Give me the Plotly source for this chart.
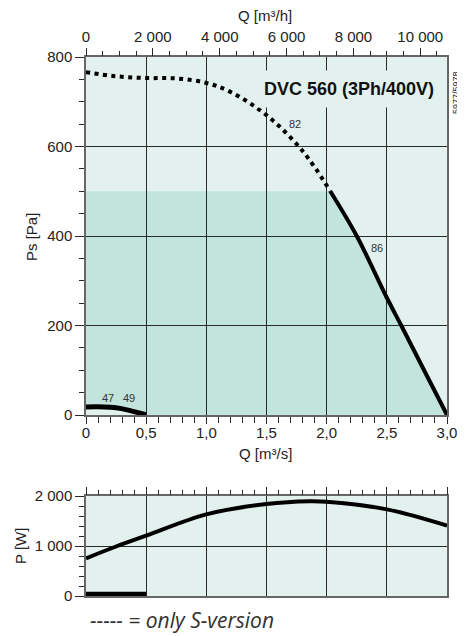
import plotly.graph_objects as go

# ---- data ----
q_dotted = [0, 0.25, 0.5, 0.75, 1.0, 1.2, 1.5, 1.8, 2.03]
ps_dotted = [766, 757, 753, 752, 742, 722, 670, 590, 500]

q_solid = [2.03, 2.25, 2.5, 2.62, 2.8, 3.0]
ps_solid = [500, 400, 262, 200, 105, 0]

q_small = [0, 0.15, 0.25, 0.35, 0.45, 0.5]
ps_small = [18, 18, 16, 11, 4, 0]

shade_limit = 500

q_power = [0, 0.25, 0.5, 1.0, 1.5, 1.86, 2.0, 2.5, 3.0]
p_power = [753, 990, 1207, 1633, 1840, 1895, 1885, 1733, 1407]

q_power_small = [0, 0.5]
p_power_small = [33, 33]

label_text = ["82", "86", "47", "49"]
label_q = [1.737, 2.418, 0.183, 0.357]
label_ps = [650, 373, 38, 38]

q_ticks = [0, 0.5, 1.0, 1.5, 2.0, 2.5, 3.0]
q_ticktext = ["0", "0,5", "1,0", "1,5", "2,0", "2,5", "3,0"]
qh_ticks = [0, 2000, 4000, 6000, 8000, 10000]
qh_ticktext = ["0", "2 000", "4 000", "6 000", "8 000", "10 000"]
ps_ticks = [0, 200, 400, 600, 800]
p_ticks = [0, 1000, 2000]
p_ticktext = ["0", "1 000", "2 000"]

title_text = "DVC 560 (3Ph/400V)"
code_text = "5977/5978"
note_text = "----- = only S-version"

# ---- layout helpers (page body has an 8px margin) ----
OFF = 8
W, H = 465 - OFF, 636 - OFF
def fx(p):
    return (p - OFF) / W
def fy(p):
    return 1 - (p - OFF) / H

LIGHT = "#e3f1ee"
DARK = "#c3e3dd"
GRID = "#2a2a2a"
AXL = "#666666"
TXT = "#222222"
FONT = "Liberation Sans, Arial, sans-serif"

fig = go.Figure()

# main curves
fig.add_trace(go.Scatter(x=q_dotted, y=ps_dotted, mode="lines", line=dict(color="black", width=4, dash="4px,4.5px", shape="spline"),
                         xaxis="x", yaxis="y", hoverinfo="skip"))
fig.add_trace(go.Scatter(x=q_solid, y=ps_solid, mode="lines", line=dict(color="black", width=4, shape="spline"),
                         xaxis="x", yaxis="y", hoverinfo="skip"))
fig.add_trace(go.Scatter(x=q_small, y=ps_small, mode="lines", line=dict(color="black", width=5, shape="spline"),
                         xaxis="x", yaxis="y", hoverinfo="skip"))
# power curves
fig.add_trace(go.Scatter(x=q_power, y=p_power, mode="lines", line=dict(color="black", width=4, shape="spline"),
                         xaxis="x2", yaxis="y2", hoverinfo="skip"))
fig.add_trace(go.Scatter(x=q_power_small, y=p_power_small, mode="lines", line=dict(color="black", width=5),
                         xaxis="x2", yaxis="y2", hoverinfo="skip"))
# dummy traces for top axes
fig.add_trace(go.Scatter(x=[0], y=[0], mode="markers", marker=dict(opacity=0), xaxis="x3", yaxis="y", hoverinfo="skip"))
fig.add_trace(go.Scatter(x=[0], y=[0], mode="markers", marker=dict(opacity=0), xaxis="x4", yaxis="y2", hoverinfo="skip"))

# shaded operating region (below gridlines)
poly_x = [0] + q_solid + q_small[::-1]
poly_y = [shade_limit] + ps_solid + ps_small[::-1]
path = "M " + " L ".join(f"{a},{b}" for a, b in zip(poly_x, poly_y)) + " Z"
shapes = [dict(type="path", path=path, xref="x", yref="y", fillcolor=DARK, line=dict(width=0), layer="below")]

main_x = [fx(86), fx(447)]
main_y = [fy(415), fy(57)]
pow_y = [fy(596), fy(496)]

tickfont = dict(family=FONT, size=15, color=TXT)

common_x = dict(range=[0, 3], showline=True, linecolor=AXL, linewidth=1.5, mirror=True, automargin=False,
                showgrid=True, gridcolor=GRID, gridwidth=1, zeroline=False,
                tickmode="array", tickvals=q_ticks)

fig.update_layout(
    width=W, height=H, autosize=False,
    margin=dict(l=0, r=0, t=0, b=0, autoexpand=False),
    paper_bgcolor="white", plot_bgcolor=LIGHT,
    showlegend=False,
    shapes=shapes,
    xaxis=dict(**common_x, domain=main_x, anchor="y", ticktext=q_ticktext, ticks="outside", ticklen=7,
               tickcolor=GRID, tickfont=tickfont, ticklabelstandoff=-4,
               minor=dict(tickmode="linear", tick0=0, dtick=0.1, ticks="outside", ticklen=6, tickcolor=GRID, showgrid=False)),
    yaxis=dict(domain=main_y, anchor="x", range=[0, 800], showline=True, linecolor=AXL, linewidth=1.5, mirror=True,
               automargin=False, showgrid=True, gridcolor=GRID, gridwidth=1, zeroline=False,
               tickmode="array", tickvals=ps_ticks, ticks="outside", ticklen=9, tickcolor=GRID, tickfont=tickfont,
               minor=dict(tickmode="linear", tick0=0, dtick=50, ticks="outside", ticklen=5, tickcolor=GRID, showgrid=False)),
    xaxis3=dict(overlaying="x", side="top", anchor="y", range=[0, 3 * 3600], showgrid=False, showline=False, zeroline=False,
                automargin=False,
                tickmode="array", tickvals=qh_ticks, ticktext=qh_ticktext, ticks="outside", ticklen=8, tickcolor=GRID,
                tickfont=tickfont,
                minor=dict(tickmode="linear", tick0=0, dtick=500, ticks="outside", ticklen=5, tickcolor=GRID, showgrid=False)),
    xaxis2=dict(**common_x, domain=main_x, anchor="y2", showticklabels=False, ticks=""),
    yaxis2=dict(domain=pow_y, anchor="x2", range=[0, 2000], showline=True, linecolor=AXL, linewidth=1.5, mirror=True,
                automargin=False, showgrid=True, gridcolor=GRID, gridwidth=1, zeroline=False,
                tickmode="array", tickvals=p_ticks, ticktext=p_ticktext, ticks="outside", ticklen=9, tickcolor=GRID,
                tickfont=tickfont,
                minor=dict(tickmode="linear", tick0=0, dtick=200, ticks="outside", ticklen=5, tickcolor=GRID, showgrid=False)),
    xaxis4=dict(overlaying="x2", side="top", anchor="y2", range=[0, 3], showgrid=False, showline=False, zeroline=False,
                automargin=False,
                tickmode="array", tickvals=q_ticks, showticklabels=False, ticks="outside", ticklen=8, tickcolor=GRID,
                minor=dict(tickmode="linear", tick0=0, dtick=0.1, ticks="outside", ticklen=5, tickcolor=GRID, showgrid=False)),
)

def txt(px, py, text, size=15, angle=0, family=FONT, color=TXT, xanchor="center", **kw):
    return dict(x=fx(px), y=fy(py), xref="paper", yref="paper", text=text, showarrow=False, textangle=angle,
                xanchor=xanchor, yanchor="middle", font=dict(family=family, size=size, color=color), **kw)

ann = []
for t, qx, py in zip(label_text, label_q, label_ps):
    ann.append(dict(x=qx, y=py, xref="x", yref="y", text=t, showarrow=False, xanchor="center", yanchor="middle",
                    font=dict(family=FONT, size=11, color="#333333")))
ann.append(txt(349, 89, f"<b>{title_text}</b>", size=18, color="#111111", bgcolor=LIGHT, borderpad=8))
ann.append(txt(265, 15, "Q [m³/h]"))
ann.append(txt(265, 454, "Q [m³/s]"))
ann.append(txt(32, 237, "Ps [Pa]", angle=-90))
ann.append(txt(20, 546, "P [W]", angle=-90))
ann.append(txt(456, 93, code_text, size=9, angle=-90))
ann.append(txt(88, 620, f"<i>{note_text}</i>", size=21, family="Open Sans, sans-serif", color="#333333", xanchor="left"))
fig.update_layout(annotations=ann)

fig.write_html("out.html")
